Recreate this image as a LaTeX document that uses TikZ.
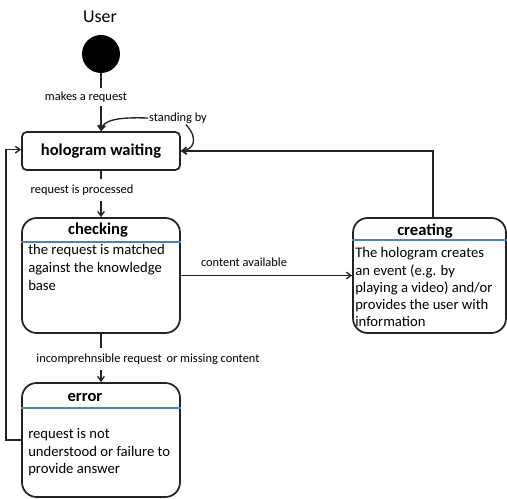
\documentclass[tikz,border=0pt]{standalone}
\usepackage{fontspec}
\setmainfont{Carlito}
\usetikzlibrary{arrows.meta}

\definecolor{sepblue}{RGB}{79,129,189}
\definecolor{boxline}{RGB}{35,35,35}

\tikzset{
  statebox/.style={draw=boxline, line width=1.3pt, rounded corners=11pt, inner sep=0pt,
    minimum width=118.5pt},
  titletext/.style={font=\fontsize{12.4}{14}\selectfont\bfseries, inner sep=0.75pt},
  bodytext/.style={anchor=north west, inner sep=0pt, align=left},
  lbl/.style={font=\fontsize{9.3}{10}\selectfont, inner sep=0.75pt},
  sep/.style={draw=sepblue, line width=0.8pt},
  flow/.style={draw=boxline, line width=1pt, ->},
}

\begin{document}
\begin{tikzpicture}[x=0.75pt,y=0.75pt,yscale=-1,xscale=1, >={Straight Barb[length=3.5pt,width=5pt]}]
\useasboundingbox (0,0) rectangle (507,499);

%Shape: Circle [start]
\node (start) [circle, fill=black, minimum size=28.5pt, inner sep=0pt] at (101,54) {};
% Text Node
\node (user) [font=\fontsize{13.5}{15}\selectfont, inner sep=0.75pt] at (100,17) {User};

%Shape: Rounded Rectangle [hologram waiting]
\node (wait) [statebox, rounded corners=3.5pt, minimum height=28.5pt, titletext, line width=1.3pt] at (101,151) {hologram waiting};

%Shape: Rounded Rectangle [checking]
\node (check) [statebox, minimum height=86.25pt] at (101,275.5) {};
\node (checkT) [titletext] at (98,230) {checking};
\draw [sep] (check.west |- 0,242) -- (check.east |- 0,242);
\node (checkB) [bodytext, font=\fontsize{11}{13.5}\selectfont] at (28,244) {the request is matched\\against the knowledge\\base};

%Shape: Rounded Rectangle [creating]
\node (cre) [statebox, minimum width=114.75pt, minimum height=86.25pt] at (429.5,275.5) {};
\node (creT) [titletext] at (425,231) {creating};
\draw [sep] (cre.west |- 0,240) -- (cre.east |- 0,240);
\node (creB) [bodytext, font=\fontsize{11}{12.9}\selectfont] at (355,247.5) {The hologram creates\\an event (e.g. by\\playing a video) and/or\\provides the user with\\information};

%Shape: Rounded Rectangle [error]
\node (err) [statebox, minimum height=85.5pt] at (101,440) {};
\node (errT) [titletext] at (85,397) {error};
\draw [sep] (err.west |- 0,408) -- (err.east |- 0,408);
\node (errB) [bodytext, font=\fontsize{11}{13}\selectfont] at (28,428.5) {request is not\\understood or failure to\\provide answer};

%Straight Lines [transitions]
\draw [flow] (start) -- (wait);
\node (mreq) [lbl, fill=white, minimum height=14pt] at (86,97) {makes a request};
\draw [flow] (wait) -- (check);
\node (proc) [lbl, fill=white, minimum height=16pt] at (82,190) {request is processed};
\draw [flow] (check) -- (err);
\node (miss) [lbl, fill=white, minimum height=16pt] at (148,359) {incomprehnsible request\, or missing content};
\draw [flow] (check.east) -- (cre.west);
\node (avail) [lbl] at (244,262) {content available};
\draw [flow] ([xshift=2.6pt]cre.north) |- (wait.east);
\draw [flow] (err.west) -- ++(-15,0) |- ([yshift=-1pt]wait.west);

%Curves [standing by]
\node (stby) [lbl] at (178,118) {standing by};
\draw [flow] (stby.west) .. controls (118,117) and (103,120) .. (wait.north);
\draw [flow] ([xshift=6pt]stby.south) .. controls (200,140) and (192,150) .. (wait.east);

\end{tikzpicture}
\end{document}
